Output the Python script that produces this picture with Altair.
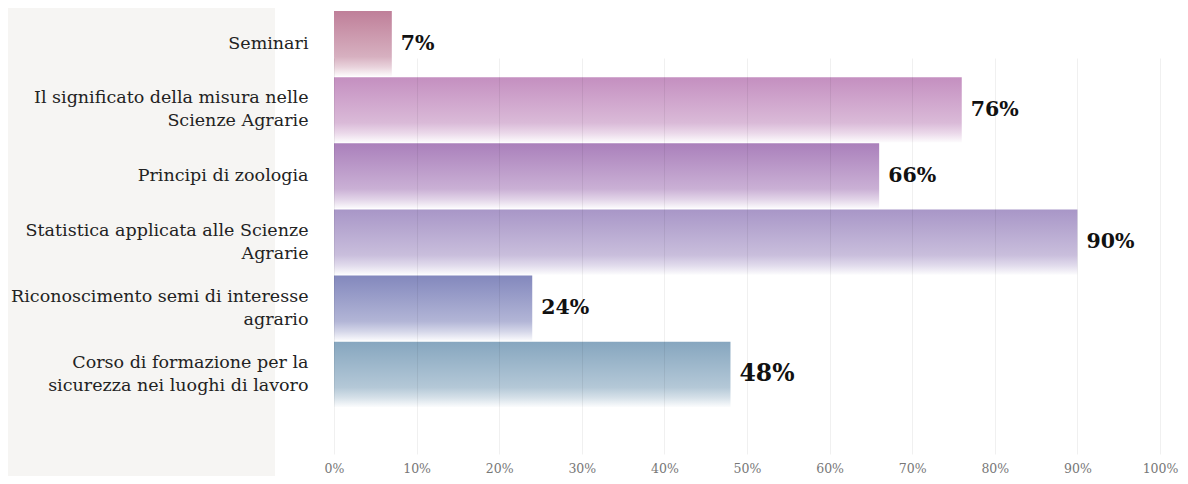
import altair as alt
import pandas as pd

courses = [
    "Seminari",
    "Il significato della misura nelle\nScienze Agrarie",
    "Principi di zoologia",
    "Statistica applicata alle Scienze\nAgrarie",
    "Riconoscimento semi di interesse\nagrario",
    "Corso di formazione per la\nsicurezza nei luoghi di lavoro",
]
values = [7, 76, 66, 90, 24, 48]
bar_colors = ["#bf7f99", "#c48fc0", "#aa80bb", "#a896c7", "#8388bd", "#86a6bf"]

df = pd.DataFrame({"course": courses, "value": values})
df["label"] = df["value"].astype(str) + "%"

FONT = "DejaVu Serif"


def mix(hexc, t):
    h = hexc.lstrip("#")
    r, g, b = (int(h[i:i + 2], 16) for i in (0, 2, 4))
    r = round(r + (255 - r) * t)
    g = round(g + (255 - g) * t)
    b = round(b + (255 - b) * t)
    return "#{:02x}{:02x}{:02x}".format(r, g, b)


def grad(c):
    return alt.Gradient(
        gradient="linear",
        x1=0, x2=0, y1=0, y2=1,
        stops=[
            alt.GradientStop(offset=0, color=c),
            alt.GradientStop(offset=0.7, color=mix(c, 0.38)),
            alt.GradientStop(offset=0.86, color=mix(c, 0.66)),
            alt.GradientStop(offset=1, color=mix(c, 0.97)),
        ],
    )


base = alt.Chart(df)

y_enc = alt.Y(
    "course:N",
    sort=courses,
    scale=alt.Scale(range=[3, 399], paddingInner=0.012, paddingOuter=0),
    axis=alt.Axis(
        title=None, ticks=False, domain=False, grid=False,
        labelFont=FONT, labelFontSize=17.5, labelColor="#222222",
        labelLimit=400, labelPadding=26, labelAlign="right",
        labelLineHeight=23, labelExpr="split(datum.label, '\\n')",
        labelOffset=alt.condition("indexof(datum.value, '\\n') >= 0",
                                  alt.value(-11.5), alt.value(0)),
        zindex=2,
    ),
)
x_enc = alt.X(
    "value:Q",
    scale=alt.Scale(domain=[0, 100]),
    axis=alt.Axis(
        title=None, values=list(range(0, 101, 10)), labelExpr="datum.value + '%'",
        ticks=False, domain=False, labelFont=FONT, labelFontSize=12.5,
        labelColor="#777777", labelPadding=5, labelFlush=False, gridColor="#000000",
        gridOpacity=0.06, zindex=1,
    ),
)

panel = base.mark_rect(color="#f6f5f3", clip=False).encode(
    x=alt.value(-326), x2=alt.value(-59), y=alt.value(0), y2=alt.value(468)
).transform_filter(alt.FieldEqualPredicate(field="course", equal=courses[0]))

layers = [panel]
for name, col in zip(courses, bar_colors):
    layers.append(
        base.transform_filter(alt.FieldEqualPredicate(field="course", equal=name))
        .mark_bar(fill=grad(col), strokeWidth=0)
        .encode(x=x_enc, y=y_enc)
    )

texts = base.mark_text(
    align="left", baseline="middle", dx=9, font=FONT, fontWeight="bold", color="#111111"
).encode(
    x="value:Q",
    y=alt.Y("course:N", sort=courses),
    text="label:N",
    size=alt.condition(
        alt.FieldEqualPredicate(field="course", equal=courses[-1]),
        alt.value(23.5), alt.value(20.5)
    ),
)
layers.append(texts)

chart = alt.layer(*layers).properties(
    width=826, height=449,
    autosize=alt.AutoSizeParams(type="none"),
    padding={"left": 326, "top": 0, "right": 20, "bottom": 19},
).configure_view(stroke=None)

chart.save("out.html", embed_options={"renderer": "svg", "actions": False})
